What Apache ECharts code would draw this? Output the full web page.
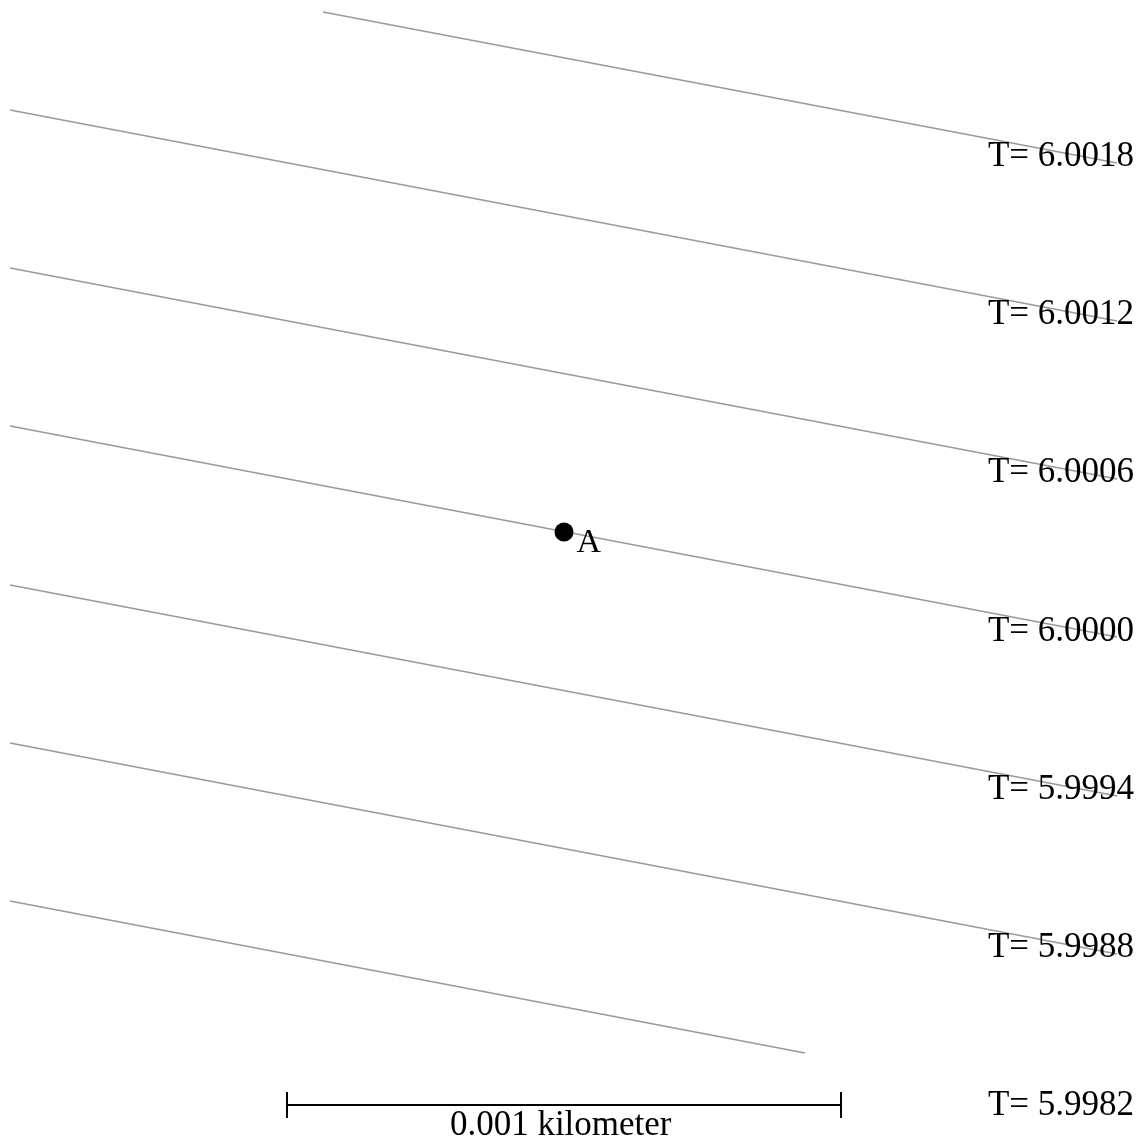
<!DOCTYPE html>
<html>
<head>
<meta charset="utf-8">
<script src="https://cdn.jsdelivr.net/npm/echarts@6/dist/echarts.min.js"></script>
<style>
html,body{margin:0;padding:0;background:#fff;}
#chart{width:1143px;height:1148px;}
</style>
</head>
<body>
<div id="chart"></div>
<script>
// Coordinates in metres, origin at point A (x east, y north)
const contourLevels = ["6.0018", "6.0012", "6.0006", "6.0000", "5.9994", "5.9988", "5.9982"];
const lineStartX = [-0.4350, -1.0000, -1.0000, -1.0000, -1.0000, -1.0000, -1.0000];
const lineStartY = [0.9386, 0.7617, 0.4765, 0.1913, -0.0957, -0.3809, -0.6661];
const lineEndX   = [0.9982, 0.9982, 0.9982, 0.9982, 0.9982, 0.9982, 0.4350];
const lineEndY   = [0.6661, 0.3809, 0.0957, -0.1895, -0.4765, -0.7617, -0.9404];
const labelX = 1.0289;
const labelY = [0.6777, 0.3920, 0.1063, -0.1795, -0.4652, -0.7509, -1.0362];
const pointA = [0, 0];
const pointName = "A";
const scaleBarStart = -0.5;
const scaleBarLength = 1.0;   // metres = 0.001 km
const scaleBarY = -1.0343;
const scaleTickHalf = 0.0235;
const scaleLabel = "0.001 kilometer";
const scaleLabelPos = [-0.006, -1.0722];

const X_MIN = -1.0181, X_MAX = 1.0451, Y_MIN = -1.1119, Y_MAX = 0.9603;
const FONT = "'Liberation Serif', 'Times New Roman', serif";

const series = [];
contourLevels.forEach((lv, i) => {
  series.push({
    type: 'line', silent: true, symbol: 'none',
    data: [[lineStartX[i], lineStartY[i]], [lineEndX[i], lineEndY[i]]],
    lineStyle: { color: '#9a9a9a', width: 1.6 },
    z: 2
  });
});
series.push({
  type: 'scatter', silent: true, symbolSize: 1,
  itemStyle: { color: 'rgba(0,0,0,0)', opacity: 1 },
  data: contourLevels.map((lv, i) => ({ value: [labelX, labelY[i]], name: 'T= ' + lv })),
  label: {
    show: true, formatter: p => p.name, position: [0.5, 0.5],
    align: 'right', verticalAlign: 'middle',
    fontFamily: FONT, fontSize: 35, color: '#000', opacity: 1
  },
  z: 3
});
// scale bar
const sx0 = scaleBarStart, sx1 = scaleBarStart + scaleBarLength;
[[[sx0, scaleBarY], [sx1, scaleBarY]],
 [[sx0, scaleBarY - scaleTickHalf], [sx0, scaleBarY + scaleTickHalf]],
 [[sx1, scaleBarY - scaleTickHalf], [sx1, scaleBarY + scaleTickHalf]]].forEach(d => {
  series.push({
    type: 'line', silent: true, symbol: 'none', data: d,
    lineStyle: { color: '#000', width: 2 }, z: 4
  });
});
series.push({
  type: 'scatter', silent: true, symbolSize: 1,
  itemStyle: { color: 'rgba(0,0,0,0)', opacity: 1 },
  data: [{ value: scaleLabelPos, name: scaleLabel }],
  label: {
    show: true, formatter: p => p.name, position: [0.5, 0.5],
    align: 'center', verticalAlign: 'middle',
    fontFamily: FONT, fontSize: 35, color: '#000', opacity: 1
  },
  z: 4
});
// point A
series.push({
  type: 'scatter', silent: true, symbol: 'circle', symbolSize: 19,
  itemStyle: { color: '#000', opacity: 1 },
  data: [{ value: pointA, name: pointName }],
  label: {
    show: true, formatter: p => p.name, position: [22, 21],
    align: 'left', verticalAlign: 'middle',
    fontFamily: FONT, fontSize: 34, color: '#000', opacity: 1
  },
  z: 5
});

const chart = echarts.init(document.getElementById('chart'), null, { renderer: 'canvas' });
chart.setOption({
  animation: false,
  backgroundColor: '#fff',
  grid: { left: 0, right: 0, top: 0, bottom: 0, containLabel: false },
  xAxis: { type: 'value', min: X_MIN, max: X_MAX, show: false },
  yAxis: { type: 'value', min: Y_MIN, max: Y_MAX, show: false },
  series: series
});
</script>
</body>
</html>
